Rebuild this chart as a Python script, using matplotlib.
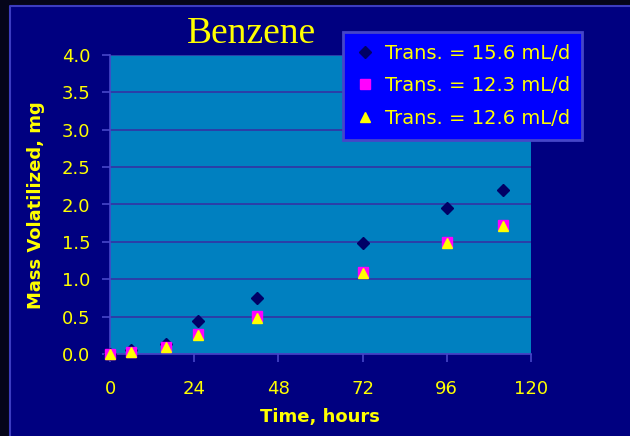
import matplotlib.pyplot as plt
from matplotlib.patches import Rectangle
from matplotlib.lines import Line2D

# benzene volatilized over time for three transpiration rates
hours = [0, 6, 16, 25, 42, 72, 96, 112]
mass_156 = [0.0, 0.05, 0.14, 0.44, 0.75, 1.49, 1.95, 2.19]
mass_123 = [0.0, 0.03, 0.10, 0.27, 0.51, 1.10, 1.50, 1.72]
mass_126 = [0.0, 0.03, 0.09, 0.25, 0.48, 1.09, 1.49, 1.71]
labels = ["Trans. = 15.6 mL/d", "Trans. = 12.3 mL/d", "Trans. = 12.6 mL/d"]
x_ticks = [0, 24, 48, 72, 96, 120]
y_ticks = [0.0, 0.5, 1.0, 1.5, 2.0, 2.5, 3.0, 3.5, 4.0]

W, H = 630, 436
navy = "#000080"
yellow = "#ffff00"
edge = "#4646c8"

fig = plt.figure(figsize=(W / 100, H / 100), dpi=100)
fig.patch.set_facecolor("#05051a")

# slide background with its light frame line
fig.add_artist(Rectangle((10 / W, 0), 1 - 10 / W, 1 - 6 / H, transform=fig.transFigure,
                         facecolor=navy, edgecolor="none", zorder=0))
fig.add_artist(Line2D([10 / W, 10 / W, 1], [0, 1 - 6 / H, 1 - 6 / H], transform=fig.transFigure,
                      color="#3c3cc0", lw=1.5, zorder=1))

ax = fig.add_axes([110 / W, (H - 354) / H, 421 / W, 299 / H])
ax.set_facecolor("#0080c0")

ax.plot(hours, mass_156, ls="none", marker="D", ms=5.8, color="#000066", label=labels[0],
        zorder=3, clip_on=False)
ax.plot(hours, mass_123, ls="none", marker="s", ms=7.4, color="#ff00ff", label=labels[1],
        zorder=4, clip_on=False)
ax.plot(hours, mass_126, ls="none", marker="^", ms=7.0, color=yellow, label=labels[2],
        zorder=5, clip_on=False)

ax.set_xlim(0, 120)
ax.set_ylim(0, 4)
ax.set_xticks(x_ticks)
ax.set_yticks(y_ticks)
ax.set_yticklabels([f"{v:.1f}" for v in y_ticks])
ax.grid(axis="y", color="#3333a4", lw=1.2, zorder=1)
ax.set_axisbelow(True)

for side in ["top", "right"]:
    ax.spines[side].set_visible(False)
for side in ["left", "bottom"]:
    ax.spines[side].set_color(edge)
    ax.spines[side].set_linewidth(1.2)
    ax.spines[side].set_zorder(2.5)

ax.tick_params(axis="both", direction="out", length=6, width=1.2, color=edge,
               labelcolor=yellow, labelsize=13)
ax.tick_params(axis="x", pad=13)
ax.tick_params(axis="y", pad=8)

fig.text(320 / W, 1 - 417 / H, "Time, hours", color=yellow, fontsize=13, fontweight="bold",
         ha="center", va="center")
fig.text(36 / W, 1 - 205 / H, "Mass Volatilized, mg", color=yellow, fontsize=13,
         fontweight="bold", rotation=90, ha="center", va="center")
fig.text(251 / W, 1 - 34 / H, "Benzene", color=yellow, fontsize=27, family="Liberation Serif",
         ha="center", va="center")

leg = ax.legend(loc="upper left", bbox_to_anchor=(343 / W, 1 - 32 / H),
                bbox_transform=fig.transFigure, borderaxespad=0, fontsize=14,
                frameon=True, fancybox=False, handlelength=1.0, handletextpad=0.55,
                labelspacing=0.68, borderpad=0.62, markerscale=1.0)
leg.get_frame().set_facecolor("#0000ff")
leg.get_frame().set_edgecolor(edge)
leg.get_frame().set_linewidth(2)
leg.get_frame().set_alpha(1)
leg.set_zorder(10)
for t in leg.get_texts():
    t.set_color(yellow)

fig.savefig("out.png", dpi=100, facecolor=fig.get_facecolor())
